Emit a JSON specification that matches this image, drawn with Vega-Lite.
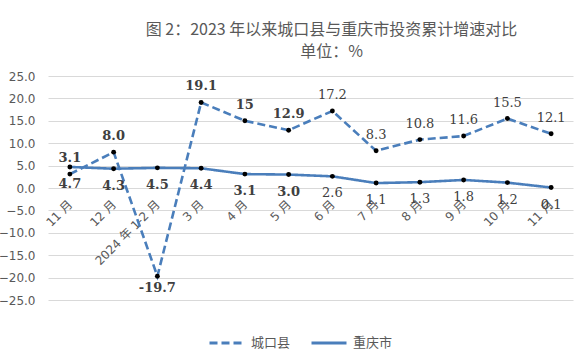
{
  "$schema": "https://vega.github.io/schema/vega-lite/v6.json",
  "width": 525,
  "height": 224,
  "autosize": {"type": "none"},
  "padding": {"left": 48, "top": 76, "right": 9, "bottom": 62},
  "background": "white",
  "title": {
    "text": "图 2：2023 年以来城口县与重庆市投资累计增速对比",
    "subtitle": "单位：%",
    "anchor": "middle",
    "dx": 21,
    "offset": 10,
    "font": "Noto Sans CJK SC",
    "subtitleFont": "Noto Sans CJK SC",
    "fontSize": 16,
    "subtitleFontSize": 16,
    "fontWeight": "normal",
    "color": "#595959",
    "subtitleColor": "#595959",
    "subtitlePadding": 6
  },
  "config": {
    "view": {"stroke": null},
    "font": "DejaVu Sans, Noto Sans CJK SC"
  },
  "data": {
    "values": [
      {"month": "2023年11月", "series": "城口县", "value": 3.1, "label": "3.1"},
      {"month": "2023年12月", "series": "城口县", "value": 8.0, "label": "8.0"},
      {"month": "2024年1-2月", "series": "城口县", "value": -19.7, "label": "-19.7"},
      {"month": "2024年3月", "series": "城口县", "value": 19.1, "label": "19.1"},
      {"month": "2024年4月", "series": "城口县", "value": 15, "label": "15"},
      {"month": "2024年5月", "series": "城口县", "value": 12.9, "label": "12.9"},
      {"month": "2024年6月", "series": "城口县", "value": 17.2, "label": "17.2"},
      {"month": "2024年7月", "series": "城口县", "value": 8.3, "label": "8.3"},
      {"month": "2024年8月", "series": "城口县", "value": 10.8, "label": "10.8"},
      {"month": "2024年9月", "series": "城口县", "value": 11.6, "label": "11.6"},
      {"month": "2024年10月", "series": "城口县", "value": 15.5, "label": "15.5"},
      {"month": "2024年11月", "series": "城口县", "value": 12.1, "label": "12.1"},
      {"month": "2023年11月", "series": "重庆市", "value": 4.7, "label": "4.7"},
      {"month": "2023年12月", "series": "重庆市", "value": 4.3, "label": "4.3"},
      {"month": "2024年1-2月", "series": "重庆市", "value": 4.5, "label": "4.5"},
      {"month": "2024年3月", "series": "重庆市", "value": 4.4, "label": "4.4"},
      {"month": "2024年4月", "series": "重庆市", "value": 3.1, "label": "3.1"},
      {"month": "2024年5月", "series": "重庆市", "value": 3.0, "label": "3.0"},
      {"month": "2024年6月", "series": "重庆市", "value": 2.6, "label": "2.6"},
      {"month": "2024年7月", "series": "重庆市", "value": 1.1, "label": "1.1"},
      {"month": "2024年8月", "series": "重庆市", "value": 1.3, "label": "1.3"},
      {"month": "2024年9月", "series": "重庆市", "value": 1.8, "label": "1.8"},
      {"month": "2024年10月", "series": "重庆市", "value": 1.2, "label": "1.2"},
      {"month": "2024年11月", "series": "重庆市", "value": 0.1, "label": "0.1"}
    ]
  },
  "encoding": {
    "x": {
      "field": "month",
      "type": "ordinal",
      "sort": null,
      "scale": {"type": "point", "padding": 0.5},
      "axis": {
        "title": null,
        "orient": "bottom",
        "offset": -112,
        "domain": false,
        "ticks": false,
        "grid": false,
        "labelAngle": -45,
        "labelAlign": "right",
        "labelBaseline": "middle",
        "labelPadding": 14,
        "labelFontSize": 12,
        "labelColor": "#595959",
        "labelFont": "DejaVu Sans, Noto Sans CJK SC",
        "labelOverlap": false,
        "labelExpr": "datum.value == '2024年1-2月' ? '2024 年 1-2 月' : replace(slice(datum.value, 5), '月', ' 月')"
      }
    },
    "y": {
      "field": "value",
      "type": "quantitative",
      "scale": {"domain": [-25, 25], "nice": false},
      "axis": {
        "title": null,
        "values": [-25, -20, -15, -10, -5, 0, 5, 10, 15, 20, 25],
        "format": ".1f",
        "domain": false,
        "ticks": false,
        "labelPadding": 13,
        "labelFontSize": 12,
        "labelColor": "#595959",
        "gridColor": "#D9D9D9",
        "gridWidth": 1
      }
    }
  },
  "layer": [
    {
      "mark": {"type": "line", "strokeWidth": 2.6},
      "encoding": {
        "color": {
          "field": "series",
          "type": "nominal",
          "scale": {"domain": ["城口县", "重庆市"], "range": ["#4A7EBB", "#4A7EBB"]},
          "legend": {
            "title": null,
            "orient": "none",
            "legendX": 160,
            "legendY": 248,
            "direction": "horizontal",
            "symbolType": "stroke",
            "symbolSize": 1225,
            "symbolStrokeWidth": 3,
            "labelFontSize": 13,
            "labelColor": "#595959",
            "labelFont": "Noto Sans CJK SC",
            "labelOffset": 5,
            "columnPadding": 14
          }
        },
        "strokeDash": {
          "field": "series",
          "type": "nominal",
          "scale": {"domain": ["城口县", "重庆市"], "range": [[8, 4], [1, 0]]}
        }
      }
    },
    {
      "mark": {"type": "point", "filled": true, "color": "black", "size": 24, "opacity": 1}
    },
    {
      "transform": [
        {"filter": "datum.series == '城口县' && datum.value >= 0"},
        {"filter": {"field": "month", "oneOf": ["2023年11月", "2023年12月", "2024年1-2月", "2024年3月", "2024年4月", "2024年5月"]}}
      ],
      "mark": {"type": "text", "dy": -16, "font": "DejaVu Serif", "fontSize": 13, "fontWeight": "bold", "color": "#404040"},
      "encoding": {"text": {"field": "label"}}
    },
    {
      "transform": [
        {"filter": "datum.series == '城口县' && datum.value >= 0"},
        {"filter": {"not": {"field": "month", "oneOf": ["2023年11月", "2023年12月", "2024年1-2月", "2024年3月", "2024年4月", "2024年5月"]}}}
      ],
      "mark": {"type": "text", "dy": -16, "font": "DejaVu Serif", "fontSize": 13, "color": "#404040"},
      "encoding": {"text": {"field": "label"}}
    },
    {
      "transform": [
        {"filter": "datum.series == '城口县' && datum.value < 0"}
      ],
      "mark": {"type": "text", "dy": 12, "font": "DejaVu Serif", "fontSize": 13, "fontWeight": "bold", "color": "#404040"},
      "encoding": {"text": {"field": "label"}}
    },
    {
      "transform": [
        {"filter": "datum.series == '重庆市'"},
        {"filter": {"field": "month", "oneOf": ["2023年11月", "2023年12月", "2024年1-2月", "2024年3月", "2024年4月", "2024年5月"]}}
      ],
      "mark": {"type": "text", "dy": 17, "font": "DejaVu Serif", "fontSize": 13, "fontWeight": "bold", "color": "#404040"},
      "encoding": {"text": {"field": "label"}}
    },
    {
      "transform": [
        {"filter": "datum.series == '重庆市'"},
        {"filter": {"not": {"field": "month", "oneOf": ["2023年11月", "2023年12月", "2024年1-2月", "2024年3月", "2024年4月", "2024年5月"]}}}
      ],
      "mark": {"type": "text", "dy": 17, "font": "DejaVu Serif", "fontSize": 13, "color": "#404040"},
      "encoding": {"text": {"field": "label"}}
    }
  ]
}
